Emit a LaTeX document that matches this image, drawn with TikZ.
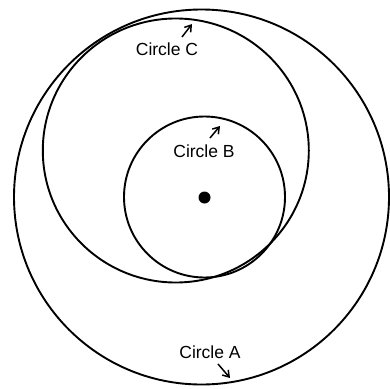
\documentclass[tikz,border=0pt]{standalone}
\usepackage{fontspec}
\setmainfont{Liberation Sans}
\usetikzlibrary{arrows.meta,shapes.geometric}
\begin{document}
\begin{tikzpicture}[x=1pt,y=-1pt,
  ring/.style={draw=black,line width=1.9pt},
  lbl/.style={font=\fontsize{17.5}{20}\selectfont,inner sep=0pt},
  ptr/.style={line width=1.5pt,-{Straight Barb[length=6pt,width=8pt]}}]
\useasboundingbox (0,0) rectangle (390,388);
\node[ring,circle,minimum size=375pt,inner sep=0pt] (A) at (201.5,197) {};
\node[ring,ellipse,minimum width=266pt,minimum height=264pt,inner sep=0pt] (C) at (175.8,150.5) {};
\node[ring,circle,minimum size=161pt,inner sep=0pt] (B) at (204.5,197) {};
\node[circle,fill=black,minimum size=12pt,inner sep=0pt] (dot) at (204.5,197.5) {};
\node[lbl] (lc) at (167,49) {Circle C};
\node[lbl] (lb) at (204,151) {Circle B};
\node[lbl] (la) at (210,352) {Circle A};
\coordinate (cs) at (182,37); \coordinate (ce) at (192,24);
\coordinate (bs) at (210,138); \coordinate (be) at (220,126);
\coordinate (as) at (218,364); \coordinate (ae) at (230,378);
\draw[ptr] (cs) -- (ce);
\draw[ptr] (bs) -- (be);
\draw[ptr] (as) -- (ae);
\end{tikzpicture}
\end{document}
